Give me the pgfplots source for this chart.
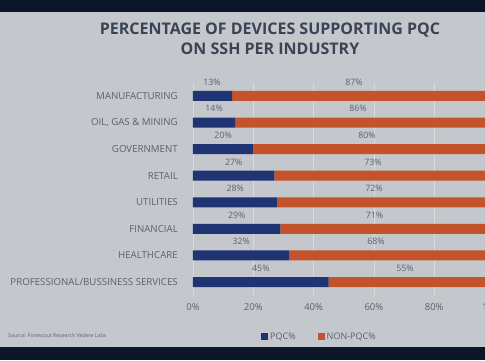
\documentclass[border=0pt]{standalone}
\usepackage{pgfplots}
\pgfplotsset{compat=1.18}
\usepackage{fontspec}
\setmainfont{Open Sans}
\definecolor{pqc}{HTML}{1E3473}
\definecolor{nonpqc}{HTML}{C4532C}
\definecolor{panel}{HTML}{C4C7CC}
\definecolor{band}{HTML}{0D1529}
\definecolor{lab}{HTML}{5A626E}
\definecolor{ttl}{HTML}{3A4454}
\begin{document}
\begin{tikzpicture}[x=1pt,y=1pt]
\useasboundingbox (0,0) rectangle (485,360);
\clip (0,0) rectangle (485,360);
\fill[band] (0,0) rectangle (485,360);
\fill[panel] (0,13) rectangle (485,348);
\node[font=\bfseries\fontsize{16}{18}\selectfont, text=ttl] at (270,330) {PERCENTAGE OF DEVICES SUPPORTING PQC};
\node[font=\bfseries\fontsize{16}{18}\selectfont, text=ttl] at (270,311) {ON SSH PER INDUSTRY};
\node[font=\fontsize{5.2}{6}\selectfont, text=lab, anchor=west, inner sep=0] at (8,24) {Source: Forescout Research Vedere Labs};
\begin{axis}[
  at={(193pt,64.7pt)}, anchor=south west,
  scale only axis, width=301.5pt, height=212.6pt,
  xbar stacked, bar width=10pt,
  xmin=0, xmax=100, ymin=-0.5, ymax=7.5, y dir=reverse,
  axis line style={draw=none},
  major tick length=0pt,
  xtick={0,20,40,60,80,100},
  xticklabels={0\%,20\%,40\%,60\%,80\%,100\%},
  xticklabel style={font=\fontsize{9.5}{11}\selectfont, text=lab, inner sep=0pt, anchor=north, yshift=-8pt},
  ytick={0,...,7},
  yticklabels={MANUFACTURING,{OIL, GAS \& MINING},GOVERNMENT,RETAIL,UTILITIES,FINANCIAL,HEALTHCARE,PROFESSIONAL/BUSSINESS SERVICES},
  yticklabel style={font=\fontsize{9.7}{11}\selectfont, text=lab, inner sep=0pt, anchor=east, xshift=-15pt},
  xmajorgrids, grid style={white, opacity=0.35, line width=0.6pt},
  legend style={at={(0.2156,-0.196)}, anchor=west, draw=none, fill=none, legend columns=2,
    font=\fontsize{9}{10}\selectfont, text=lab, /tikz/every even column/.append style={column sep=20pt}},
  legend image code/.code={\fill[#1] (0pt,-3.5pt) rectangle (7pt,3.5pt);},
]
\addplot[fill=pqc, draw=none] coordinates {(13,0) (14,1) (20,2) (27,3) (28,4) (29,5) (32,6) (45,7)};
\addlegendentry{PQC\%}
\addplot[fill=nonpqc, draw=none] coordinates {(87,0) (86,1) (80,2) (73,3) (72,4) (71,5) (68,6) (55,7)};
\addlegendentry{NON-PQC\%}
\end{axis}
\begin{axis}[
  at={(193pt,64.7pt)}, anchor=south west,
  scale only axis, width=301.5pt, height=212.6pt,
  xmin=0, xmax=100, ymin=-0.5, ymax=7.5, y dir=reverse,
  hide axis, clip=false,
]
\addplot[only marks, mark=none, nodes near coords, point meta=explicit symbolic,
  every node near coord/.append style={anchor=center, font=\fontsize{8.8}{10}\selectfont, text=lab, inner sep=0pt}]
  table[meta=lbl] {
x y lbl
6.3 -0.52 13\%
7.0 0.48 14\%
10.0 1.48 20\%
13.5 2.48 27\%
14.0 3.48 28\%
14.5 4.48 29\%
16.0 5.48 32\%
22.5 6.48 45\%
53.4 -0.52 87\%
54.7 0.48 86\%
57.7 1.48 80\%
59.7 2.48 73\%
60.0 3.48 72\%
60.2 4.48 71\%
60.7 5.48 68\%
70.3 6.48 55\%
};
\end{axis}
\end{tikzpicture}
\end{document}
